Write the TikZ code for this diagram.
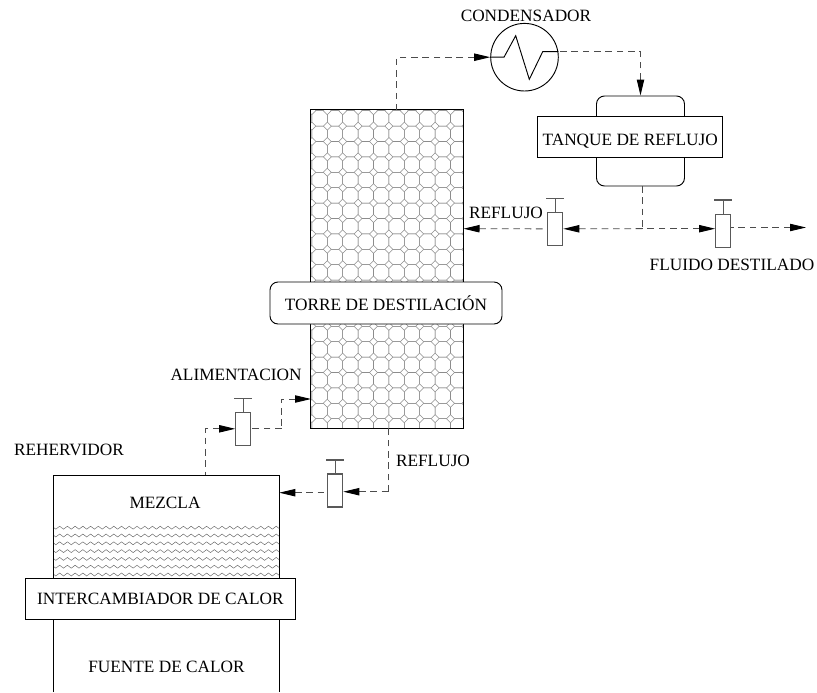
\documentclass[tikz,border=0pt]{standalone}
\usepackage{fontspec}
\setmainfont{Liberation Serif}
\usepackage{tikz}
\usetikzlibrary{arrows.meta,decorations.pathmorphing}

\begin{document}
\begin{tikzpicture}[
  x=0.75bp, y=-0.75bp,
  font=\fontsize{13}{15}\selectfont,
  caja/.style={draw, line width=0.7pt, fill=white, inner sep=0pt},
  valvula/.style={draw=black!65, line width=0.9pt, fill=white, inner sep=0pt, minimum width=15*0.75bp, minimum height=33*0.75bp},
  vastago/.style={draw=black!65, line width=0.9pt},
  flecha/.style={{Triangle[length=12bp,width=5.5bp,black]}-, draw=black!70, line width=0.7pt, dash pattern=on 5bp off 3.5bp},
  linea/.style={draw=black!70, line width=0.7pt, dash pattern=on 5bp off 3.5bp},
  panal/.style={draw=black!45, line width=0.4pt},
  onda/.style={draw=black!60, line width=0.35pt, decorate, decoration={zigzag, segment length=5.8bp, amplitude=1.1bp}}
]
\useasboundingbox (0,0) rectangle (817,693);

% columna
\node[minimum width=152.5*0.75bp, minimum height=318*0.75bp, inner sep=0pt] (torre) at (387.3,269) {};
\begin{scope}
\clip (torre.north west) rectangle (torre.south east);
\foreach \x in {304.2,319.6,...,470}
  \foreach \y in {103,118.4,...,440}
    \draw[panal, shift={(\x,\y)}] (-7.7,-3.7) -- (-3.7,-7.7) -- (3.7,-7.7) -- (7.7,-3.7) -- (7.7,3.7) -- (3.7,7.7) -- (-3.7,7.7) -- (-7.7,3.7) -- cycle;
\end{scope}
\draw[line width=0.7pt] (torre.north west) rectangle (torre.south east);
\node[caja, rounded corners=6bp, minimum width=232*0.75bp, minimum height=42*0.75bp] (rotulo) at (386,303) {TORRE DE DESTILACIÓN};

% condensador y tanque
\node[caja, circle, minimum size=67.6*0.75bp] (cond) at (524.5,57.2) {};
\node[above=0pt] (condlabel) at (526,26) {CONDENSADOR};
\coordinate (condout) at (558.3,51.7);
\draw[line width=0.7pt] (cond.west) -- (504,57.2) -- (515.7,35.7) -- (529.3,79.3) -- (542.7,51.7) -- (condout);
\node[caja, rounded corners=6bp, minimum width=88*0.75bp, minimum height=90*0.75bp] (tanque) at (640.5,141) {};
\node[caja, minimum width=185.5*0.75bp, minimum height=41*0.75bp] (banda) at (630.2,136.5) {};
\node (tanquelabel) at (630.2,141) {TANQUE DE REFLUJO};

% rehervidor
\coordinate (rebsi) at (53.3,475);
\coordinate (rebsd) at (279.3,475);
\draw[line width=0.7pt] (53.3,692) coordinate (rebii) -- (rebsi) -- (rebsd) -- (279.3,692) coordinate (rebid);
\begin{scope}
\clip (54,522) rectangle (279,578);
\foreach \y in {519.9,527.7,...,576}
  \draw[onda] (50,\y) -- (285,\y);
\end{scope}
\node[caja, minimum width=270.2*0.75bp, minimum height=40.7*0.75bp] (inter) at (160.4,598.7) {INTERCAMBIADOR DE CALOR};
\node (mezcla) at (165,503) {MEZCLA};
\node (fuente) at (166.5,667) {FUENTE DE CALOR};
\node (rehlabel) at (69,450) {REHERVIDOR};

% valvulas
\node[valvula] (v1) at (555.2,228.8) {};
\node[valvula] (v2) at (723.2,230.6) {};
\node[valvula] (v3) at (243.3,428.8) {};
\node[valvula] (v4) at (335.2,490.5) {};
\foreach \v in {v1,v2,v3,v4}
  \draw[vastago] (\v.north) -- ++(0,-13.5) ++(-9,0) -- ++(18,0);

\node (refluaux) at (506,213) {REFLUJO};
\node (fluido) at (732,265) {FLUIDO DESTILADO};
\node (alim) at (236,375) {ALIMENTACION};
\node (reflufondo) at (433,461) {REFLUJO};

% conexiones
\coordinate (salida) at (396.7,110);
\coordinate (tanqueout) at (642.3,186);
\coordinate (nudo) at (642.3,228.7);
\coordinate (reflusal) at (463.5,228.7);
\coordinate (destilado) at (806,227.5);
\coordinate (mezclasal) at (205.5,475);
\coordinate (codo) at (281.7,428.3);
\coordinate (alimin) at (311,399);
\coordinate (torrefondo) at (388.3,428);
\coordinate (codofondo) at (388.3,491.7);
\coordinate (mezclain) at (279.3,492.7);
\draw[flecha] (cond.west) -| (salida);
\draw[flecha] (tanque.north) |- (condout);
\draw[linea] (tanqueout) -- (nudo);
\draw[flecha] (v1.east) -- (nudo);
\draw[flecha] (v2.west |- nudo) -- (nudo);
\draw[flecha] (reflusal) -- (v1.west);
\draw[flecha] (destilado) -- (v2.east |- destilado);
\draw[flecha] (v3.west) -| (mezclasal);
\draw[flecha] (alimin) -| (codo);
\draw[linea] (codo) -- (v3.east |- codo);
\draw[flecha] (v4.east |- codofondo) -- (codofondo);
\draw[linea] (codofondo) -- (torrefondo);
\draw[flecha] (mezclain) -- (v4.west |- mezclain);
\end{tikzpicture}
\end{document}
